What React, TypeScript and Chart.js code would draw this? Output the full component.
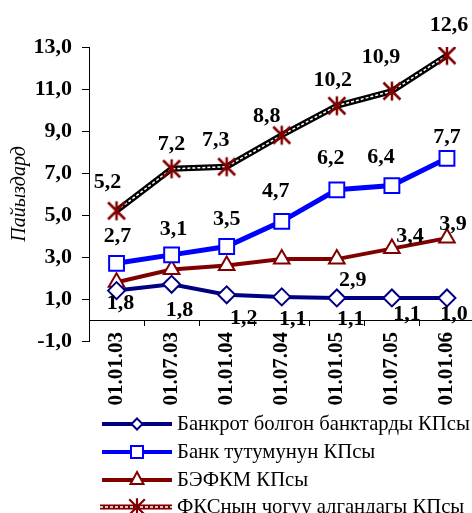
import { useEffect, useRef } from "react";
import { Chart, registerables } from "chart.js";

Chart.register(...registerables);

const categories = ["01.01.03", "01.07.03", "01.01.04", "01.07.04", "01.01.05", "01.07.05", "01.01.06"];
const seriesNames = [
  "Банкрот болгон банктарды КПсы",
  "Банк тутумунун КПсы",
  "БЭФКМ КПсы",
  "ФКСнын чогуу алгандагы КПсы",
];
const bankruptValues = [1.4, 1.7, 1.2, 1.1, 1.05, 1.05, 1.05];
const systemValues = [2.7, 3.1, 3.5, 4.7, 6.2, 6.4, 7.7];
const befkmValues = [1.8, 2.4, 2.6, 2.9, 2.9, 3.4, 3.9];
const fksValues = [5.2, 7.2, 7.3, 8.8, 10.2, 10.9, 12.6];

const bankruptLabels = ["1,8", "1,8", "1,2", "1,1", "1,1", "1,1", "1,0"];
const systemLabels = ["2,7", "3,1", "3,5", "4,7", "6,2", "6,4", "7,7"];
const befkmLabels = ["", "", "", "", "2,9", "3,4", "3,9"];
const fksLabels = ["5,2", "7,2", "7,3", "8,8", "10,2", "10,9", "12,6"];

const yMin = -1;
const yMax = 13;
const yStep = 2;
const yTitle = "Пайыздард";

// label placement (style), relative to each point
const bankruptOffsets = [[4, 13], [8, 26], [17, 24], [11, 22], [14, 21], [15, 16], [7, 16]];
const systemOffsets = [[1, -27], [2, -26], [0, -27], [-6, -30], [-6, -31], [-11, -28], [0, -21]];
const befkmOffsets = [[0, 0], [0, 0], [0, 0], [0, 0], [16, 21], [18, -12], [6, -14]];
const fksOffsets = [[-9, -28], [0, -24], [-11, -26], [-15, -19], [-4, -25], [-11, -34], [2, -30]];

const NAVY = "#000080";
const BLUE = "#0000FF";
const DARKRED = "#800000";
const SERIF = "'Liberation Serif', 'Times New Roman', serif";

function makeStar(size: number, lw: number): HTMLCanvasElement {
  const c = document.createElement("canvas");
  c.width = size;
  c.height = size;
  const g = c.getContext("2d")!;
  g.strokeStyle = DARKRED;
  g.lineWidth = lw;
  const m = lw;
  g.beginPath();
  g.moveTo(size / 2, m - 1);
  g.lineTo(size / 2, size - m + 1);
  g.moveTo(m, m);
  g.lineTo(size - m, size - m);
  g.moveTo(size - m, m);
  g.lineTo(m, size - m);
  g.stroke();
  return c;
}

function zeroPad(scale: any) {
  scale.paddingLeft = 0;
  scale.paddingRight = 0;
  scale.paddingTop = 0;
  scale.paddingBottom = 0;
}

export default function App() {
  const ref = useRef<HTMLCanvasElement | null>(null);

  useEffect(() => {
    document.body.style.margin = "0";
    document.body.style.overflow = "hidden";
    const canvas = ref.current;
    if (!canvas) return;
    const star = makeStar(22, 2.5);
    const starSmall = makeStar(20, 2.2);

    const labelSets: Record<number, { texts: string[]; offs: number[][] }> = {
      0: { texts: bankruptLabels, offs: bankruptOffsets },
      1: { texts: systemLabels, offs: systemOffsets },
      2: { texts: befkmLabels, offs: befkmOffsets },
      5: { texts: fksLabels, offs: fksOffsets },
    };

    const labelPlugin = {
      id: "pointLabels",
      afterDatasetsDraw(chart: any) {
        const ctx = chart.ctx;
        ctx.save();
        ctx.font = `bold 22px ${SERIF}`;
        ctx.fillStyle = "#000";
        ctx.textAlign = "center";
        ctx.textBaseline = "middle";
        Object.keys(labelSets).forEach((k) => {
          const idx = Number(k);
          const meta = chart.getDatasetMeta(idx);
          const set = labelSets[idx];
          meta.data.forEach((pt: any, i: number) => {
            const t = set.texts[i];
            if (!t) return;
            ctx.fillText(t, pt.x + set.offs[i][0], pt.y + set.offs[i][1]);
          });
        });
        ctx.restore();
      },
    };

    const legendPlugin = {
      id: "customLegend",
      afterDraw(chart: any) {
        const ctx = chart.ctx;
        const rows = [424, 452, 480, 507];
        const x0 = 102;
        const x1 = 172;
        const xm = (x0 + x1) / 2;
        ctx.save();
        rows.forEach((y, i) => {
          ctx.setLineDash([]);
          if (i < 3) {
            const col = [NAVY, BLUE, DARKRED][i];
            ctx.strokeStyle = col;
            ctx.lineWidth = 4;
            ctx.beginPath();
            ctx.moveTo(x0, y);
            ctx.lineTo(x1, y);
            ctx.stroke();
            ctx.fillStyle = "#fff";
            ctx.lineWidth = 2;
            ctx.beginPath();
            if (i === 0) {
              ctx.moveTo(xm - 5.5, y);
              ctx.lineTo(xm, y - 5.5);
              ctx.lineTo(xm + 5.5, y);
              ctx.lineTo(xm, y + 5.5);
              ctx.closePath();
            } else if (i === 1) {
              ctx.rect(xm - 6, y - 6, 12, 12);
            } else {
              ctx.moveTo(xm, y - 8);
              ctx.lineTo(xm + 6.5, y + 4);
              ctx.lineTo(xm - 6.5, y + 4);
              ctx.closePath();
            }
            ctx.fill();
            ctx.stroke();
          } else {
            ctx.strokeStyle = DARKRED;
            ctx.lineWidth = 5;
            ctx.beginPath();
            ctx.moveTo(x0 - 2, y);
            ctx.lineTo(x1, y);
            ctx.stroke();
            ctx.strokeStyle = "#fff";
            ctx.lineWidth = 1.5;
            ctx.setLineDash([3, 2]);
            ctx.beginPath();
            ctx.moveTo(x0 - 2, y);
            ctx.lineTo(x1, y);
            ctx.stroke();
            ctx.setLineDash([]);
            ctx.drawImage(starSmall, xm - 10, y - 10);
          }
          ctx.fillStyle = "#000";
          ctx.font = `20.7px ${SERIF}`;
          ctx.textAlign = "left";
          ctx.textBaseline = "middle";
          ctx.fillText(seriesNames[i], 177, y + 1);
        });
        ctx.restore();
      },
    };

    const chart = new Chart(canvas, {
      type: "line",
      data: {
        labels: categories,
        datasets: [
          {
            label: seriesNames[0],
            data: bankruptValues,
            borderColor: NAVY,
            borderWidth: 4,
            pointStyle: "rectRot",
            pointRadius: 8.5,
            pointBorderWidth: 2,
            pointBackgroundColor: "#fff",
            pointBorderColor: NAVY,
            order: 4,
          },
          {
            label: seriesNames[1],
            data: systemValues,
            borderColor: BLUE,
            borderWidth: 5,
            pointStyle: "rect",
            pointRadius: 10.5,
            pointBorderWidth: 2,
            pointBackgroundColor: "#fff",
            pointBorderColor: BLUE,
            order: 4,
          },
          {
            label: seriesNames[2],
            data: befkmValues,
            borderColor: DARKRED,
            borderWidth: 4,
            pointStyle: "triangle",
            pointRadius: 9,
            pointBorderWidth: 2,
            pointBackgroundColor: "#fff",
            pointBorderColor: DARKRED,
            order: 4,
          },
          {
            label: seriesNames[3],
            data: fksValues,
            borderColor: "#000",
            borderWidth: 6,
            pointRadius: 0,
            order: 3,
          },
          {
            label: "",
            data: fksValues,
            borderColor: "#fff",
            borderWidth: 1.5,
            borderDash: [3, 2],
            pointRadius: 0,
            order: 2,
          },
          {
            label: "",
            data: fksValues,
            showLine: false,
            pointStyle: star as any,
            pointRadius: 11,
            order: 1,
          },
        ],
      },
      options: {
        responsive: false,
        animation: false,
        layout: { padding: { top: 47, left: 0, right: 0, bottom: 172 } },
        plugins: {
          legend: { display: false },
          tooltip: { enabled: false },
        },
        elements: { line: { tension: 0 } },
        scales: {
          x: {
            type: "category",
            position: { y: 0 } as any,
            offset: true,
            grid: {
              display: true,
              drawOnChartArea: false,
              drawTicks: true,
              tickLength: 5,
              color: "#000",
              offset: true,
            },
            border: { display: true, color: "#000", width: 1 },
            ticks: {
              minRotation: 90,
              maxRotation: 90,
              padding: 7,
              color: "#000",
              font: { family: SERIF, size: 21, weight: "bold" },
            },
            afterFit(scale: any) {
              zeroPad(scale);
            },
          },
          y: {
            min: yMin,
            max: yMax,
            grid: {
              display: true,
              drawOnChartArea: false,
              drawTicks: true,
              tickLength: 7,
              color: "#000",
            },
            border: { display: true, color: "#000", width: 1 },
            ticks: {
              stepSize: yStep,
              padding: 10,
              color: "#000",
              font: { family: SERIF, size: 22, weight: "bold" },
              callback: (v: any) => Number(v).toFixed(1).replace(".", ","),
            },
            title: {
              display: true,
              text: yTitle,
              color: "#000",
              padding: { top: 8, bottom: 0 },
              font: { family: SERIF, size: 20, style: "italic" },
            },
            afterFit(scale: any) {
              scale.width = 89;
              zeroPad(scale);
            },
          },
        },
      },
      plugins: [labelPlugin, legendPlugin],
    });

    return () => chart.destroy();
  }, []);

  return (
    <div style={{ width: 472, height: 513, overflow: "hidden" }}>
      <canvas ref={ref} width={487} height={513} style={{ display: "block" }} />
    </div>
  );
}
